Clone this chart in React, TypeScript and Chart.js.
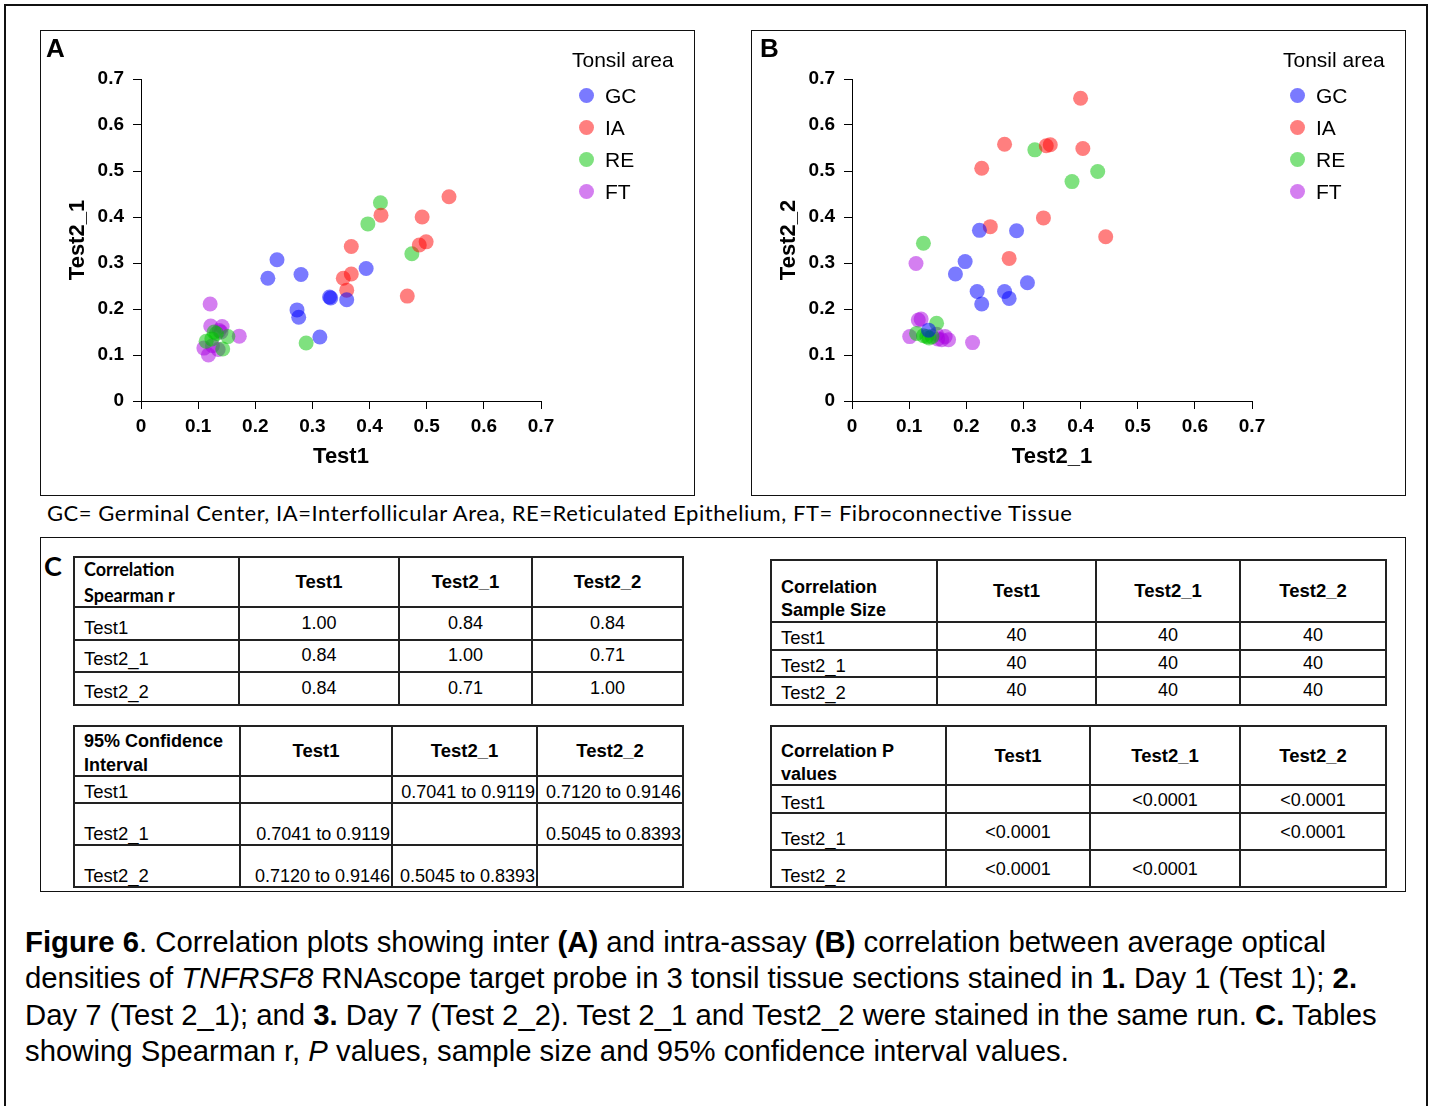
import React, { useEffect, useRef } from "react";
import { Chart, registerables } from "chart.js";

Chart.register(...registerables);

// ---------- DATA ----------
const AXIS_TICKS = ["0", "0.1", "0.2", "0.3", "0.4", "0.5", "0.6", "0.7"];
const AREAS = ["GC", "IA", "RE", "FT"];
const AREA_COLORS = [
  "rgba(0,0,255,0.52)",
  "rgba(255,0,0,0.5)",
  "rgba(0,195,0,0.5)",
  "rgba(170,0,225,0.5)",
];

// Panel A: Test1 (x) vs Test2_1 (y)
const A_GC_X = [0.222, 0.238, 0.28, 0.273, 0.276, 0.313, 0.33, 0.332, 0.36, 0.394];
const A_GC_Y = [0.267, 0.307, 0.275, 0.198, 0.182, 0.139, 0.226, 0.224, 0.22, 0.288];
const A_IA_X = [0.368, 0.354, 0.368, 0.36, 0.42, 0.492, 0.487, 0.499, 0.539, 0.466];
const A_IA_Y = [0.336, 0.267, 0.276, 0.241, 0.404, 0.4, 0.339, 0.346, 0.444, 0.228];
const A_RE_X = [0.419, 0.397, 0.474, 0.289, 0.114, 0.124, 0.132, 0.152, 0.143, 0.128];
const A_RE_Y = [0.431, 0.385, 0.32, 0.126, 0.13, 0.135, 0.147, 0.14, 0.113, 0.15];
const A_FT_X = [0.121, 0.172, 0.122, 0.142, 0.137, 0.11, 0.118, 0.135, 0.125, 0.14];
const A_FT_Y = [0.211, 0.141, 0.163, 0.162, 0.153, 0.115, 0.1, 0.112, 0.12, 0.15];

// Panel B: Test2_1 (x) vs Test2_2 (y)
const B_GC_X = [0.223, 0.288, 0.198, 0.181, 0.219, 0.227, 0.267, 0.275, 0.307, 0.134];
const B_GC_Y = [0.371, 0.37, 0.303, 0.276, 0.238, 0.211, 0.238, 0.223, 0.257, 0.154];
const B_IA_X = [0.4, 0.267, 0.227, 0.34, 0.347, 0.404, 0.335, 0.242, 0.444, 0.275];
const B_IA_Y = [0.658, 0.558, 0.506, 0.555, 0.557, 0.549, 0.398, 0.379, 0.357, 0.31];
const B_RE_X = [0.32, 0.43, 0.385, 0.125, 0.148, 0.113, 0.131, 0.135, 0.14, 0.125];
const B_RE_Y = [0.546, 0.499, 0.477, 0.343, 0.169, 0.147, 0.14, 0.137, 0.14, 0.142];
const B_FT_X = [0.112, 0.211, 0.116, 0.121, 0.101, 0.163, 0.157, 0.148, 0.169, 0.15];
const B_FT_Y = [0.299, 0.127, 0.176, 0.178, 0.14, 0.14, 0.133, 0.145, 0.133, 0.135];

// Tables
const TABLE_COLS = ["Test1", "Test2_1", "Test2_2"];
const ROW_LABELS = ["Test1", "Test2_1", "Test2_2"];
const SPEARMAN = [
  ["1.00", "0.84", "0.84"],
  ["0.84", "1.00", "0.71"],
  ["0.84", "0.71", "1.00"],
];
const SAMPLE_SIZE = [
  ["40", "40", "40"],
  ["40", "40", "40"],
  ["40", "40", "40"],
];
const CONF_INT = [
  ["", "0.7041 to 0.9119", "0.7120 to 0.9146"],
  ["0.7041 to 0.9119", "", "0.5045 to 0.8393"],
  ["0.7120 to 0.9146", "0.5045 to 0.8393", ""],
];
const P_VALUES = [
  ["", "<0.0001", "<0.0001"],
  ["<0.0001", "", "<0.0001"],
  ["<0.0001", "<0.0001", ""],
];

// ---------- STYLE ----------
const ARIAL = '"Liberation Sans", Arial, Helvetica, sans-serif';
const CALI = 'Lato, "Open Sans", sans-serif';

type Series = { x: number[]; y: number[] };

function Scatter(props: { left: number; top: number; xTitle: string; yTitle: string; series: Series[] }) {
  const ref = useRef<HTMLCanvasElement>(null);
  useEffect(() => {
    const fmt = (v: any) => {
      const i = Math.round(Number(v) * 10);
      return AXIS_TICKS[i] ?? "";
    };
    const chart = new Chart(ref.current!, {
      type: "scatter",
      data: {
        datasets: props.series.map((s, k) => ({
          label: AREAS[k],
          data: s.x.map((x, i) => ({ x, y: s.y[i] })),
          backgroundColor: AREA_COLORS[k],
          borderColor: "rgba(0,0,0,0)",
          borderWidth: 0,
          pointRadius: 7.5,
          pointHoverRadius: 7.5,
        })),
      },
      options: {
        responsive: false,
        animation: false,
        devicePixelRatio: 1,
        events: [],
        layout: { padding: { left: 0, right: 153, top: 48, bottom: 0 } },
        plugins: { legend: { display: false }, tooltip: { enabled: false } },
        scales: {
          x: {
            type: "linear",
            min: 0,
            max: 0.7,
            afterFit: (s: any) => {
              s.height = 94;
            },
            ticks: {
              stepSize: 0.1,
              autoSkip: false,
              maxRotation: 0,
              padding: 6,
              color: "#000",
              font: { family: ARIAL, size: 19, weight: "bold" },
              callback: fmt,
            },
            grid: { drawOnChartArea: false, drawTicks: true, tickLength: 8, color: "#000", lineWidth: 1 },
            border: { display: true, color: "#000", width: 1 },
            title: {
              display: true,
              text: props.xTitle,
              color: "#000",
              font: { family: ARIAL, size: 22, weight: "bold" },
              padding: { top: 0, bottom: 25 },
            },
          },
          y: {
            type: "linear",
            min: 0,
            max: 0.7,
            afterFit: (s: any) => {
              s.width = 100;
            },
            ticks: {
              stepSize: 0.1,
              autoSkip: false,
              padding: 9,
              color: "#000",
              font: { family: ARIAL, size: 19, weight: "bold" },
              callback: fmt,
            },
            grid: { drawOnChartArea: false, drawTicks: true, tickLength: 8, color: "#000", lineWidth: 1 },
            border: { display: true, color: "#000", width: 1 },
            title: {
              display: true,
              text: props.yTitle,
              color: "#000",
              font: { family: ARIAL, size: 22, weight: "bold" },
              padding: { top: 24, bottom: 0 },
            },
          },
        },
      } as any,
    });
    return () => chart.destroy();
  }, []);
  return (
    <canvas
      ref={ref}
      width={653}
      height={464}
      style={{ position: "absolute", left: props.left, top: props.top, width: 653, height: 464, display: "block" }}
    />
  );
}

function Txt(props: {
  x: number;
  y: number;
  fs: number;
  lh?: number;
  bold?: boolean;
  italic?: boolean;
  font?: string;
  ls?: number;
  children: React.ReactNode;
}) {
  const lh = props.lh ?? props.fs;
  return (
    <div
      style={{
        position: "absolute",
        left: props.x,
        top: props.y - lh / 2,
        fontSize: props.fs,
        lineHeight: lh + "px",
        fontFamily: props.font ?? ARIAL,
        fontWeight: props.bold ? "bold" : "normal",
        fontStyle: props.italic ? "italic" : "normal",
        letterSpacing: props.ls ? props.ls + "px" : undefined,
        whiteSpace: "nowrap",
        color: "#000",
      }}
    >
      {props.children}
    </div>
  );
}

function Legend(props: { left: number; top: number }) {
  const { left, top } = props;
  return (
    <>
      <Txt x={left} y={top} fs={21}>
        Tonsil area
      </Txt>
      {AREAS.map((a, i) => (
        <React.Fragment key={a}>
          <div
            style={{
              position: "absolute",
              left: left + 14 - 7.5,
              top: top + 36 + i * 32.3 - 7.5,
              width: 15,
              height: 15,
              borderRadius: "50%",
              background: AREA_COLORS[i],
            }}
          />
          <Txt x={left + 33} y={top + 36 + i * 32.3} fs={21}>
            {a}
          </Txt>
        </React.Fragment>
      ))}
    </>
  );
}

type TableProps = {
  cols: number[];
  rows: number[];
  headerLines: string[];
  headerLineY: number[];
  headerFont: string;
  data: string[][];
  fs: number;
  vfs: number;
  valueMode: "center" | "bottomRight";
  labelDy: number[];
  valueDy: number[];
};

function DataTable(p: TableProps) {
  const lines: React.ReactNode[] = [];
  const L = p.cols[0];
  const R = p.cols[p.cols.length - 1];
  const T = p.rows[0];
  const B = p.rows[p.rows.length - 1];
  p.cols.forEach((c, i) =>
    lines.push(
      <div
        key={"c" + i}
        style={{ position: "absolute", left: c - 1, top: T - 1, width: 2, height: B - T + 2, background: "#222" }}
      />
    )
  );
  p.rows.forEach((r, i) =>
    lines.push(
      <div
        key={"r" + i}
        style={{ position: "absolute", left: L - 1, top: r - 1, width: R - L + 2, height: 2, background: "#222" }}
      />
    )
  );
  const cells: React.ReactNode[] = [];
  p.headerLines.forEach((t, i) =>
    cells.push(
      <Txt key={"h" + i} x={L + 10} y={p.headerLineY[i]} fs={18} bold font={p.headerFont}>
        {t}
      </Txt>
    )
  );
  TABLE_COLS.forEach((t, j) => {
    const cx = (p.cols[j + 1] + p.cols[j + 2]) / 2;
    const cy = (p.rows[0] + p.rows[1]) / 2;
    cells.push(
      <div
        key={"hc" + j}
        style={{
          position: "absolute",
          left: cx - 80,
          width: 160,
          top: cy - 10,
          lineHeight: "20px",
          textAlign: "center",
          fontFamily: ARIAL,
          fontWeight: "bold",
          fontSize: 18.5,
        }}
      >
        {t}
      </div>
    );
  });
  ROW_LABELS.forEach((t, i) => {
    const cy = (p.rows[i + 1] + p.rows[i + 2]) / 2;
    cells.push(
      <Txt key={"rl" + i} x={L + 10} y={cy + p.labelDy[i]} fs={p.fs} lh={20}>
        {t}
      </Txt>
    );
    p.data[i].forEach((v, j) => {
      const c0 = p.cols[j + 1];
      const c1 = p.cols[j + 2];
      const center = p.valueMode === "center";
      cells.push(
        <div
          key={"v" + i + "_" + j}
          style={{
            position: "absolute",
            left: center ? c0 : c0 - 10,
            width: center ? c1 - c0 : c1 - c0 + 8,
            top: cy + p.valueDy[i] - 10,
            lineHeight: "20px",
            textAlign: center ? "center" : "right",
            fontFamily: ARIAL,
            fontSize: p.vfs,
            whiteSpace: "nowrap",
          }}
        >
          {v}
        </div>
      );
    });
  });
  return (
    <>
      {cells}
      {lines}
    </>
  );
}

export default function App() {
  const seriesA: Series[] = [
    { x: A_GC_X, y: A_GC_Y },
    { x: A_IA_X, y: A_IA_Y },
    { x: A_RE_X, y: A_RE_Y },
    { x: A_FT_X, y: A_FT_Y },
  ];
  const seriesB: Series[] = [
    { x: B_GC_X, y: B_GC_Y },
    { x: B_IA_X, y: B_IA_Y },
    { x: B_RE_X, y: B_RE_Y },
    { x: B_FT_X, y: B_FT_Y },
  ];
  const box = (l: number, t: number, r: number, b: number): React.CSSProperties => ({
    position: "absolute",
    left: l,
    top: t,
    width: r - l,
    height: b - t,
    border: "1px solid #111",
    boxSizing: "border-box",
  });
  return (
    <div
      style={{
        position: "absolute",
        left: 0,
        top: 0,
        width: 1430,
        height: 1106,
        background: "#fff",
        overflow: "hidden",
        fontFamily: ARIAL,
      }}
    >
      {/* outer frame */}
      <div
        style={{
          position: "absolute",
          left: 4,
          top: 4,
          width: 1424,
          height: 1120,
          border: "2px solid #111",
          boxSizing: "border-box",
        }}
      />
      {/* Panel A */}
      <div style={box(40, 30, 695, 496)} />
      <Scatter left={41} top={31} xTitle="Test1" yTitle="Test2_1" series={seriesA} />
      <Txt x={46} y={48} fs={26} bold>
        A
      </Txt>
      <Legend left={572} top={59} />

      {/* Panel B */}
      <div style={box(751, 30, 1406, 496)} />
      <Scatter left={752} top={31} xTitle="Test2_1" yTitle="Test2_2" series={seriesB} />
      <Txt x={760} y={48} fs={26} bold>
        B
      </Txt>
      <Legend left={1283} top={59} />

      {/* footnote */}
      <Txt x={47} y={513} fs={22} ls={0.55} font={CALI}>
        GC= Germinal Center, IA=Interfollicular Area, RE=Reticulated Epithelium, FT= Fibroconnective Tissue
      </Txt>

      {/* Panel C */}
      <div style={box(40, 537, 1406, 892)} />
      <Txt x={44} y={565} fs={27} bold font={CALI}>
        C
      </Txt>
      <DataTable
        cols={[74, 239, 399, 532, 683]}
        rows={[557, 607, 640, 672, 705]}
        headerLines={["Correlation", "Spearman r"]}
        headerLineY={[569, 595]}
        headerFont={CALI}
        data={SPEARMAN}
        fs={18.5}
        vfs={18}
        valueMode="center"
        labelDy={[4, 3, 3]}
        valueDy={[-1, -1, -1]}
      />
      <DataTable
        cols={[771, 937, 1096, 1240, 1386]}
        rows={[560, 622, 650, 677, 705]}
        headerLines={["Correlation", "Sample Size"]}
        headerLineY={[587, 610]}
        headerFont={ARIAL}
        data={SAMPLE_SIZE}
        fs={18.5}
        vfs={18}
        valueMode="center"
        labelDy={[2, 2, 2]}
        valueDy={[-1, -1, -1]}
      />
      <DataTable
        cols={[74, 240, 392, 537, 683]}
        rows={[726, 776, 803, 845, 887]}
        headerLines={["95% Confidence", "Interval"]}
        headerLineY={[741, 765]}
        headerFont={ARIAL}
        data={CONF_INT}
        fs={18.5}
        vfs={18}
        valueMode="bottomRight"
        labelDy={[2, 10, 10]}
        valueDy={[2, 10, 10]}
      />
      <DataTable
        cols={[771, 946, 1090, 1240, 1386]}
        rows={[726, 785, 813, 850, 887]}
        headerLines={["Correlation P", "values"]}
        headerLineY={[751, 774]}
        headerFont={ARIAL}
        data={P_VALUES}
        fs={18.5}
        vfs={18}
        valueMode="center"
        labelDy={[4, 7, 7]}
        valueDy={[1, 0, 0]}
      />

      {/* caption */}
      <div
        style={{
          position: "absolute",
          left: 25,
          top: 942 - 18,
          fontFamily: ARIAL,
          fontSize: 29.3,
          lineHeight: "36.3px",
          whiteSpace: "nowrap",
          color: "#000",
        }}
      >
        <div>
          <b>Figure 6</b>. Correlation plots showing inter <b>(A)</b> and intra-assay <b>(B)</b> correlation between
          average optical
        </div>
        <div>
          densities of <i>TNFRSF8</i> RNAscope target probe in 3 tonsil tissue sections stained in <b>1.</b> Day 1
          (Test 1); <b>2.</b>
        </div>
        <div>
          Day 7 (Test 2_1); and <b>3.</b> Day 7 (Test 2_2). Test 2_1 and Test2_2 were stained in the same run.{" "}
          <b>C.</b> Tables
        </div>
        <div>
          showing Spearman r, <i>P</i> values, sample size and 95% confidence interval values.
        </div>
      </div>
    </div>
  );
}
